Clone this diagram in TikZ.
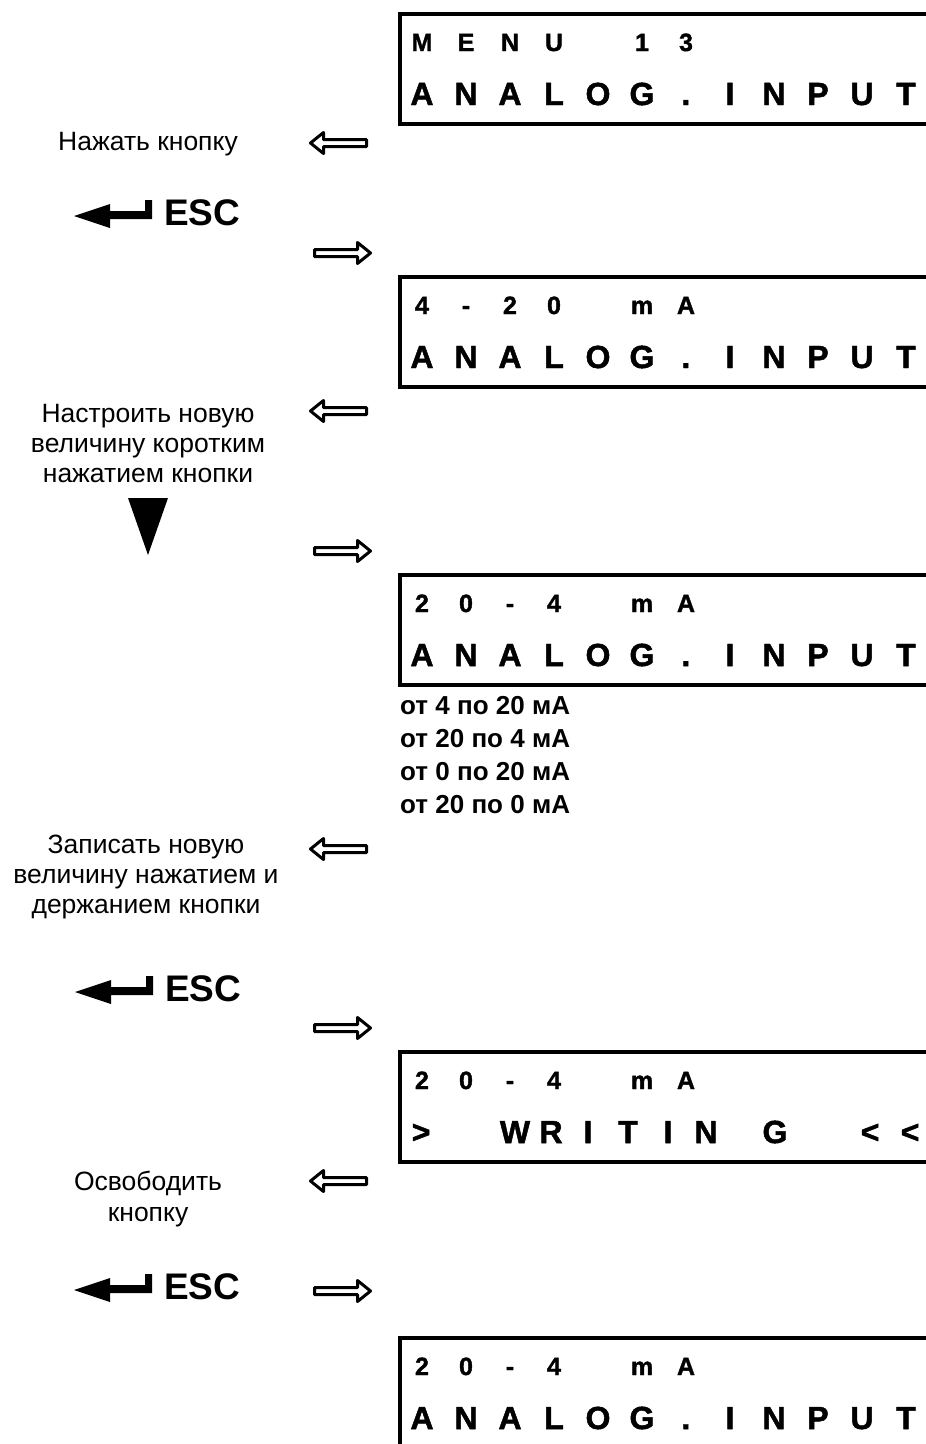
\documentclass[tikz,border=0pt]{standalone}
\usepackage{fontspec}
\setmainfont{Liberation Sans}
\newfontfamily\lcdfont{Liberation Sans}[FakeBold=1.5]
\usetikzlibrary{calc}
\usetikzlibrary{positioning}
\tikzstyle{lcdbox} = [draw, rectangle, line width=4pt, outer sep=0pt, inner sep=0pt, anchor=north west, minimum width=700pt, minimum height=110pt]
\tikzstyle{lcdtop} = [inner sep=0pt, anchor=base, font=\lcdfont\fontsize{25}{25}\selectfont\bfseries]
\tikzstyle{lcdbot} = [inner sep=0pt, anchor=base, font=\lcdfont\fontsize{32}{32}\selectfont\bfseries]
\tikzstyle{steptext} = [inner sep=0pt, anchor=base, font=\fontsize{26.5}{30}\selectfont]
\tikzstyle{choicetext} = [inner sep=0pt, anchor=base west, font=\fontsize{26}{29}\selectfont\bfseries]
\tikzstyle{esctext} = [inner sep=0pt, anchor=base west, font=\fontsize{37}{37}\selectfont\bfseries]
\tikzstyle{hollowarrow} = [draw, line width=3pt, line join=round]
\tikzset{
  backarrow/.pic={\draw[hollowarrow] (0,0) -- (13,-10.5) -- (13,-3.5) -- (56,-3.5) -- (56,3.5) -- (13,3.5) -- (13,10.5) -- cycle;},
  escbutton/.pic={
    \fill (0,0) -- (36,-12) -- (36,-5) -- (71,-5) -- (71,-16) -- (78,-16) -- (78,3) -- (36,3) -- (36,12) -- cycle;
    \node[esctext] (-label) at (90,9) {ESC};}
}

\begin{document}
\begin{tikzpicture}[x=1pt, y=-1pt]
\useasboundingbox (0,0) rectangle (926,1444);
\clip (0,0) rectangle (926,1444);

% screens
\node[lcdbox] (lcd1) at (400,14) {};
\node[lcdbox] (lcd2) at (400,277) {};
\node[lcdbox] (lcd3) at (400,575) {};
\node[lcdbox] (lcd4) at (400,1052) {};
\node[lcdbox] (lcd5) at (400,1338) {};

\foreach \i/\ch in {0/M,1/E,2/N,3/U,5/1,6/3}
  \node[lcdtop] (lcd1-a\i) at ($(lcd1.north west)+(22+44*\i,37)$) {\ch};
\foreach \i/\ch in {0/4,1/-,2/2,3/0,5/m,6/A}
  \node[lcdtop] (lcd2-a\i) at ($(lcd2.north west)+(22+44*\i,37)$) {\ch};
\foreach \lcd in {lcd3,lcd4,lcd5}
  \foreach \i/\ch in {0/2,1/0,2/-,3/4,5/m,6/A}
    \node[lcdtop] (\lcd-a\i) at ($(\lcd.north west)+(22+44*\i,37)$) {\ch};

\foreach \lcd in {lcd1,lcd2,lcd3,lcd5}
  \foreach \ch [count=\i from 0] in {A,N,A,L,O,G,.,I,N,P,U,T}
    \node[lcdbot] (\lcd-b\i) at ($(\lcd.north west)+(22+44*\i,91)$) {\ch};
\foreach \x/\ch [count=\i from 0] in {21/>,115/W,151/R,188/I,228/T,268/I,306/N,375/G,470/<,510/<}
  \node[lcdbot] (lcd4-b\i) at ($(lcd4.north west)+(\x,91)$) {\ch};

% ranges under screen 3
\foreach \txt [count=\i from 0] in {от 4 по 20 мА,от 20 по 4 мА,от 0 по 20 мА,от 20 по 0 мА}
  \node[choicetext] (choice\i) at ($(lcd3.south west)+(0,29+33*\i)$) {\txt};

% steps
\node[steptext] (press) at (148,150) {Нажать кнопку};
\node[steptext] (adjust1) at (148,422) {Настроить новую};
\node[steptext] (adjust2) at ($(adjust1.base)+(0,30)$) {величину коротким};
\node[steptext] (adjust3) at ($(adjust2.base)+(0,30)$) {нажатием кнопки};
\node[steptext] (save1) at (146,853) {Записать новую};
\node[steptext] (save2) at ($(save1.base)+(0,30)$) {величину нажатием и};
\node[steptext] (save3) at ($(save2.base)+(0,30)$) {держанием кнопки};
\node[steptext] (release1) at (148,1190) {Освободить};
\node[steptext] (release2) at ($(release1.base)+(0,31)$) {кнопку};

\pic (esc1) at (74,216) {escbutton};
\pic (esc2) at (75,992) {escbutton};
\pic (esc3) at (74,1290) {escbutton};
\fill (128,498) -- (168,498) -- (148,555) -- cycle;

% arrows
\foreach \y in {143,411,849,1181}
  \pic at (310.5,\y) {backarrow};
\foreach \y in {253,551,1028,1291}
  \pic[xscale=-1] at (370.5,\y) {backarrow};
\end{tikzpicture}
\end{document}
